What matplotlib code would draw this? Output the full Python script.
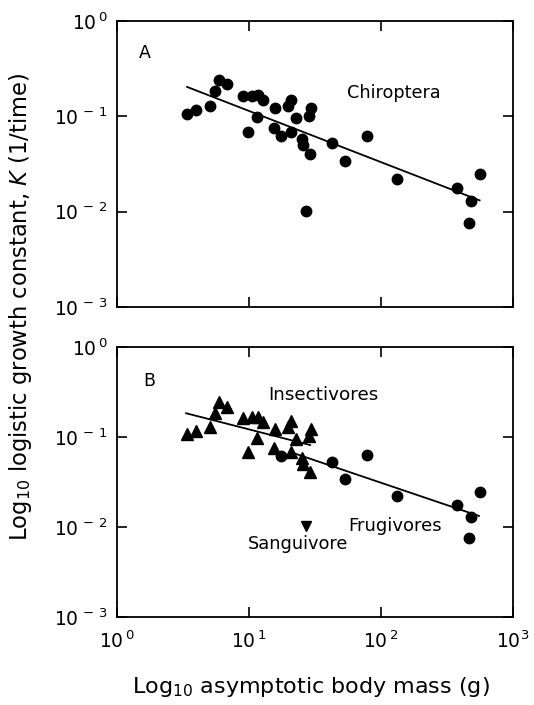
import numpy as np
import matplotlib
matplotlib.use("Agg")
import matplotlib.pyplot as plt

plt.rcParams['font.family'] = ['DejaVu Sans']
plt.rcParams['mathtext.default'] = 'regular'

# ---------------- data ---------------- #
# body mass (g) and logistic growth constant K (1/time)
insect_mass = [3.40, 4.0, 5.05, 5.52, 5.88, 6.77, 8.95, 9.89, 10.6, 11.8, 11.6, 12.8,
               15.7, 15.6, 19.9, 21.0, 20.7, 22.6, 25.4, 25.6, 29.1, 28.7, 29.7]
insect_k = [0.107, 0.116, 0.129, 0.183, 0.243, 0.218, 0.162, 0.068, 0.165, 0.166, 0.098, 0.147,
            0.123, 0.075, 0.129, 0.150, 0.068, 0.095, 0.058, 0.050, 0.0406, 0.102, 0.122]

frug_mass = [17.4, 42.9, 53.0, 77.8, 133, 378, 480, 463, 559]
frug_k = [0.062, 0.053, 0.0343, 0.0627, 0.0220, 0.0177, 0.0129, 0.0076, 0.0246]

sangui_mass = [27.1]
sangui_k = [0.0102]

# regression lines: log10 K = a + b * log10 M, over mass range
chiro_fit = (-0.406, -0.537)
chiro_range = (3.4, 559)
insect_fit = (-0.539, -0.376)
insect_range = (3.34, 29.1)
frug_fit = (-0.514, -0.497)
frug_range = (21, 552)

xticks = [1, 10, 100, 1000]
xticklabels = ['10$^{\\,0}$', '10$^{\\,1}$', '10$^{\\,2}$', '10$^{3}$']
yticks = [1, 0.1, 0.01, 0.001]
yticklabels = ['10$^{\\,0}$', '10$^{\\,-\\,1}$', '10$^{\\,-\\,2}$', '10$^{\\,-\\,3}$']


def fit_line(ax, fit, rng):
    xs = np.array(rng, dtype=float)
    ys = 10 ** (fit[0] + fit[1] * np.log10(xs))
    ax.plot(xs, ys, color='black', lw=1.3)


def setup(ax, xlabels):
    ax.set_xscale('log')
    ax.set_yscale('log')
    ax.set_xlim(1, 1000)
    ax.set_ylim(0.001, 1)
    ax.set_xticks(xticks)
    ax.set_yticks(yticks)
    ax.minorticks_off()
    ax.set_yticklabels(yticklabels, fontsize=13.5)
    if xlabels:
        ax.set_xticklabels(xticklabels, fontsize=13.5)
    else:
        ax.set_xticklabels([])
    ax.tick_params(which='both', direction='in', length=7, width=1.2,
                   top=True, right=True)
    ax.tick_params(axis='y', pad=7)
    ax.tick_params(axis='x', pad=10)
    for s in ax.spines.values():
        s.set_linewidth(1.3)


fig = plt.figure(figsize=(5.34, 7.05), dpi=100)
axA = fig.add_axes([0.219, 0.5645, 0.7416, 0.4057])
axB = fig.add_axes([0.219, 0.1248, 0.7416, 0.383])

# panel A: all bats
all_mass = insect_mass + frug_mass + sangui_mass
all_k = insect_k + frug_k + sangui_k
axA.plot(all_mass, all_k, 'o', color='black', ms=7.5, zorder=3)
fit_line(axA, chiro_fit, chiro_range)
setup(axA, False)
axA.text(0.071, 0.888, 'A', transform=axA.transAxes, fontsize=12.5, ha='center', va='center')
axA.text(0.581, 0.748, 'Chiroptera', transform=axA.transAxes, fontsize=12.7, ha='left', va='center')

# panel B: by diet
axB.plot(insect_mass, insect_k, '^', color='black', ms=8, zorder=3)
axB.plot(frug_mass, frug_k, 'o', color='black', ms=7.5, zorder=3)
axB.plot(sangui_mass, sangui_k, 'v', color='black', ms=7, zorder=3)
fit_line(axB, insect_fit, insect_range)
fit_line(axB, frug_fit, frug_range)
setup(axB, True)
axB.text(0.081, 0.874, 'B', transform=axB.transAxes, fontsize=12.5, ha='center', va='center')
axB.text(0.381, 0.822, 'Insectivores', transform=axB.transAxes, fontsize=13.2, ha='left', va='center')
axB.text(0.583, 0.337, 'Frugivores', transform=axB.transAxes, fontsize=13, ha='left', va='center')
axB.text(0.331, 0.270, 'Sanguivore', transform=axB.transAxes, fontsize=12.8, ha='left', va='center')

fig.text(0.583, 0.017, 'Log$_{10}$ asymptotic body mass (g)', fontsize=16,
         ha='center', va='baseline')
fig.text(0.038, 0.5645, 'Log$_{10}$ logistic growth constant, $\\mathit{K}$ (1/time)',
         fontsize=16.3, rotation=90, ha='center', va='center')

fig.savefig('out.png', dpi=100)
